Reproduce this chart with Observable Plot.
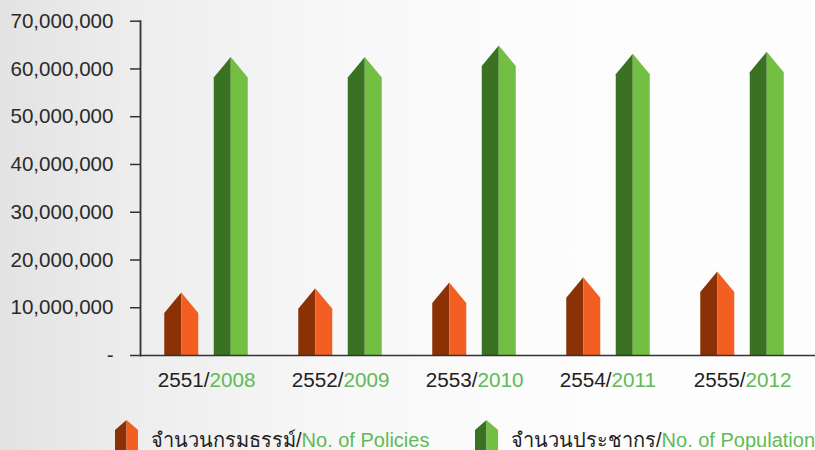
<!DOCTYPE html>
<html>
<head>
<meta charset="utf-8">
<script src="https://cdn.jsdelivr.net/npm/d3@7"></script>
<script src="https://cdn.jsdelivr.net/npm/@observablehq/plot@0.6"></script>
<style>
  html, body { margin: 0; padding: 0; }
  body {
    width: 815px; height: 450px; overflow: hidden; position: relative;
    background: linear-gradient(to right, #e3e3e3 0%, #eeeeee 18%, #f7f7f7 40%, #fcfcfc 65%, #fefefe 100%);
    font-family: "Liberation Sans", Arial, sans-serif;
  }
  #chart svg { display: block; background: transparent; }
  .legend-item { position: absolute; top: 420px; height: 30px; display: flex; align-items: flex-start; }
  .legend-item svg { display: block; }
  .legend-item span { font-size: 20px; line-height: 20px; margin-top: 10px; margin-left: 13px; color: #222; white-space: nowrap; }
  .legend-item span b { font-weight: normal; color: #5fba57; }
</style>
</head>
<body>
<div id="chart"></div>
<script>
// ---- data ----
const thaiYears = ["2551", "2552", "2553", "2554", "2555"];
const ceYears = ["2008", "2009", "2010", "2011", "2012"];
const policies = [13100000, 14000000, 15200000, 16300000, 17500000];
const population = [62400000, 62400000, 64800000, 63100000, 63500000];
const yTicks = [0, 10000000, 20000000, 30000000, 40000000, 50000000, 60000000, 70000000];
const seriesNames = ["จำนวนกรมธรรม์", "จำนวนประชากร"];
const seriesNamesEn = ["No. of Policies", "No. of Population"];

// ---- styles ----
const colors = [
  {dark: "#8a3205", light: "#f35e23"},
  {dark: "#3a7123", light: "#73bf44"}
];
const offsets = [-24.75, 24.75];
const halfW = 17;
const tipH = 20.5;

const series = [policies, population];

function arrowBars(index, scales, values, dimensions) {
  const g = d3.create("svg:g");
  const y0 = scales.y(0);
  series.forEach((vals, s) => {
    thaiYears.forEach((cat, i) => {
      const cx = scales.x(cat) + offsets[s];
      const yt = scales.y(vals[i]);
      const ys = yt + tipH;
      g.append("path")
        .attr("d", `M${cx - halfW},${y0}L${cx - halfW},${ys}L${cx},${yt}L${cx},${y0}Z`)
        .attr("fill", colors[s].dark);
      g.append("path")
        .attr("d", `M${cx},${y0}L${cx},${yt}L${cx + halfW},${ys}L${cx + halfW},${y0}Z`)
        .attr("fill", colors[s].light);
    });
  });
  return g.node();
}

const fmt = d3.format(",");
const chart = Plot.plot({
  width: 815,
  height: 410,
  marginTop: 20.7,
  marginBottom: 55,
  marginLeft: 140,
  marginRight: 0,
  style: {background: "transparent", fontFamily: "'Liberation Sans', Arial, sans-serif"},
  x: {type: "point", domain: thaiYears, range: [204.75, 742.75], padding: 0, align: 0.5},
  y: {domain: [0, 70000000], range: [355, 20.7]},
  marks: [
    arrowBars,
    Plot.ruleY([0], {stroke: "#333", strokeWidth: 1.5}),
    Plot.frame({anchor: "left", stroke: "#333", strokeWidth: 1.8}),
    Plot.axisY({
      ticks: yTicks,
      tickFormat: d => d === 0 ? "-" : fmt(d),
      tickSize: 10,
      tickPadding: 17,
      fontSize: 20.6,
      fill: "#2b2b2b",
      stroke: "#333",
      strokeWidth: 1.5,
      label: null
    }),
    Plot.axisX({
      tickSize: 0,
      tickPadding: 16.5,
      fontSize: 20.7,
      textAnchor: "end",
      dx: 3,
      fill: "#222",
      tickFormat: d => d + "/",
      label: null
    }),
    Plot.axisX({
      tickSize: 0,
      tickPadding: 16.5,
      fontSize: 20.7,
      textAnchor: "start",
      dx: 3,
      fill: "#5fba57",
      tickFormat: d => ceYears[thaiYears.indexOf(d)],
      label: null
    })
  ]
});
document.getElementById("chart").appendChild(chart);

// ---- legend ----
const legendLeft = [115, 475];
seriesNames.forEach((name, s) => {
  const item = document.createElement("div");
  item.className = "legend-item";
  item.style.left = legendLeft[s] + "px";
  item.innerHTML =
    `<svg width="23" height="30" viewBox="0 0 23 30">
       <path d="M0,30L0,10L11.5,0L11.5,30Z" fill="${colors[s].dark}"/>
       <path d="M11.5,30L11.5,0L23,10L23,30Z" fill="${colors[s].light}"/>
     </svg><span>${name}/<b>${seriesNamesEn[s]}</b></span>`;
  document.body.appendChild(item);
});
</script>
</body>
</html>
